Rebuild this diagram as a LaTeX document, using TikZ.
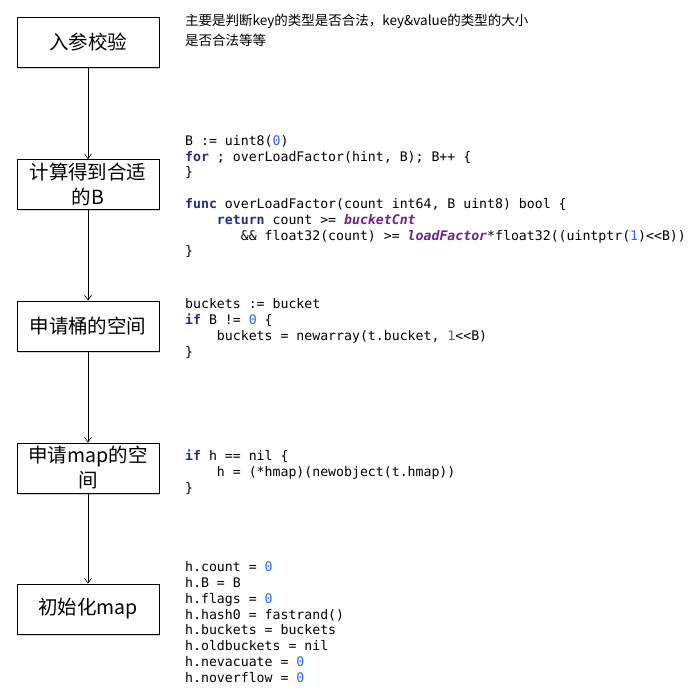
\documentclass[tikz,border=0pt]{standalone}
\usepackage{fontspec}
\usepackage{xcolor}
\usetikzlibrary{arrows.meta,positioning,shadows}
\setmonofont{DejaVu Sans Mono}
\newfontfamily\cjk{Noto Sans CJK SC}
\definecolor{kwcolor}{RGB}{35,45,135}
\definecolor{numcolor}{RGB}{45,100,250}
\definecolor{cstcolor}{RGB}{110,35,140}
\newcommand{\kw}[1]{\textcolor{kwcolor}{\bfseries #1}}
\newcommand{\nm}[1]{\textcolor{numcolor}{#1}}
\newcommand{\cst}[1]{\textcolor{cstcolor}{\bfseries\itshape #1}}
\newcommand{\ind}[1]{\phantom{#1}}

\begin{document}
\begin{tikzpicture}[
    x=1pt, y=-1pt,
    box/.style={rectangle, draw, line width=0.6pt, minimum width=142pt, minimum height=50pt, align=center, inner sep=0pt, font=\cjk\fontsize{19.5}{25}\selectfont, fill=white, drop shadow={shadow xshift=1pt, shadow yshift=-1.5pt, opacity=0.35}},
    codetext/.style={anchor=north west, align=left, inner sep=0pt, font=\ttfamily\fontsize{13.2}{15.8}\selectfont},
    note/.style={anchor=north west, align=left, inner sep=0pt, font=\cjk\fontsize{13.5}{20}\selectfont},
    arrow/.style={-{Straight Barb[length=5pt,width=7pt]}, line width=0.6pt}
]
\useasboundingbox (0,0) rectangle (699,690);

% Steps
\node[box] (check) at (88, 42.5) {入参校验};
\node[box] (calcb) at (88, 184.5) {计算得到合适\\的B};
\node[box] (newbkt) at (88, 326) {申请桶的空间};
\node[box] (newmap) at (88, 468) {申请map的空\\间};
\node[box] (initmap) at (88, 609) {初始化map};

% Arrows
\draw[arrow] (check) -- (calcb);
\draw[arrow] (calcb) -- (newbkt);
\draw[arrow] (newbkt) -- (newmap);
\draw[arrow] (newmap) -- (initmap);

% Notes and code
\node[note] (note1) at (185, 14) {主要是判断key的类型是否合法，key\&value的类型的大小\\是否合法等等};

\node[codetext] (code2) at (185, 135) {B := uint8(\nm{0})\\
\kw{for} ; overLoadFactor(hint, B); B++ \{\\
\}\\[15.8pt]
\kw{func} overLoadFactor(count int64, B uint8) bool \{\\
\ind{0000}\kw{return} count >= \cst{bucketCnt}\\
\ind{0000000}\&\& float32(count) >= \cst{loadFactor}*float32((uintptr(\nm{1})<<B))\\
\}};

\node[codetext] (code3) at (185, 298.5) {buckets := bucket\\
\kw{if} B != \nm{0} \{\\
\ind{0000}buckets = newarray(t.bucket, \nm{1}<<B)\\
\}};

\node[codetext] (code4) at (185, 449.5) {\kw{if} h == nil \{\\
\ind{0000}h = (*hmap)(newobject(t.hmap))\\
\}};

\node[codetext] (code5) at (185, 561.5) {h.count = \nm{0}\\
h.B = B\\
h.flags = \nm{0}\\
h.hash0 = fastrand()\\
h.buckets = buckets\\
h.oldbuckets = nil\\
h.nevacuate = \nm{0}\\
h.noverflow = \nm{0}};

\end{tikzpicture}
\end{document}
